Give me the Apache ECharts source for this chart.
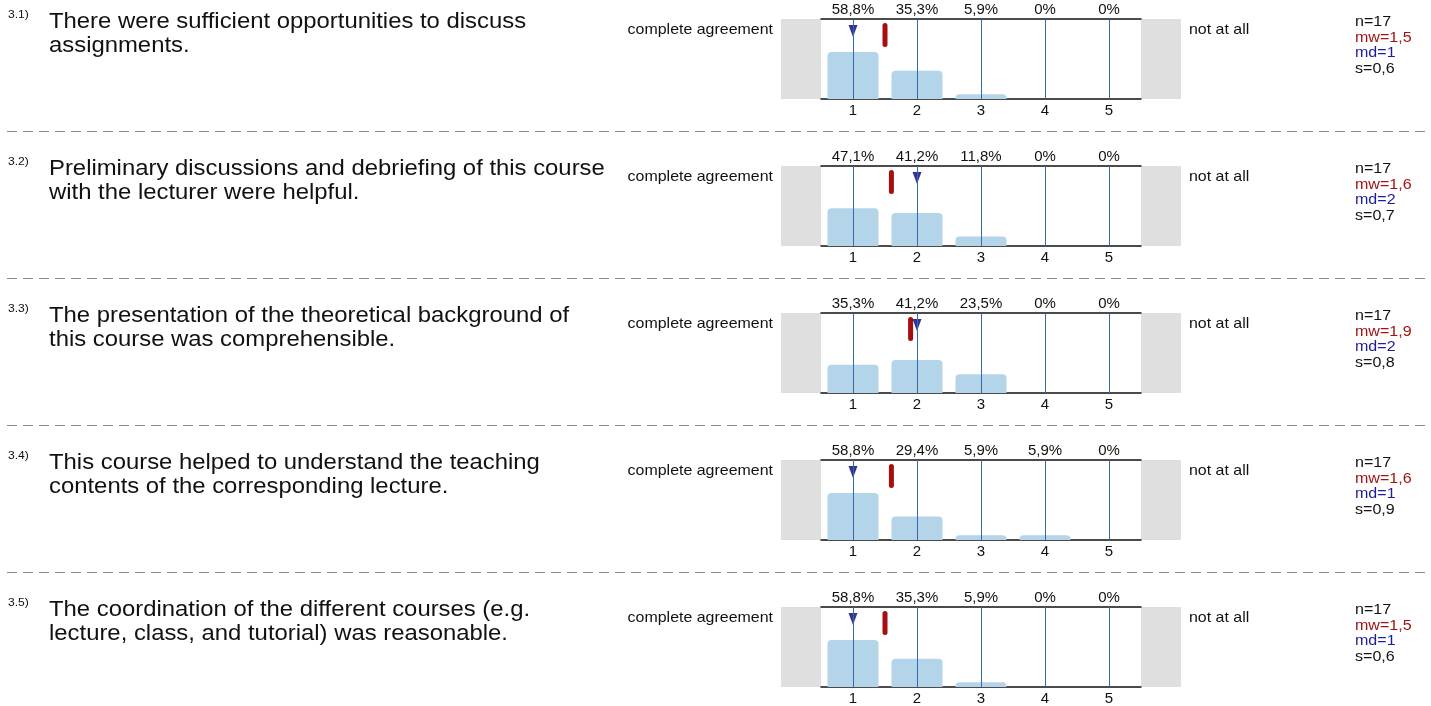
<!DOCTYPE html>
<html>
<head>
<meta charset="utf-8">
<title>Course evaluation</title>
<script src="https://cdn.jsdelivr.net/npm/echarts@6/dist/echarts.min.js"></script>
<style>
  *{ margin:0; padding:0; }
  body{ background:#fff; }
  #chart{ width:1431px; height:706px; }
</style>
</head>
<body>
<div id="chart"></div>
<script>
// data
var scaleLabels = ['1', '2', '3', '4', '5'];
var questionIds = ['3.1)', '3.2)', '3.3)', '3.4)', '3.5)'];
var questionLines = [
  ['There were sufficient opportunities to discuss', 'assignments.'],
  ['Preliminary discussions and debriefing of this course', 'with the lecturer were helpful.'],
  ['The presentation of the theoretical background of', 'this course was comprehensible.'],
  ['This course helped to understand the teaching', 'contents of the corresponding lecture.'],
  ['The coordination of the different courses (e.g.', 'lecture, class, and tutorial) was reasonable.']
];
var percentShares = [
  [58.8, 35.3, 5.9, 0, 0],
  [47.1, 41.2, 11.8, 0, 0],
  [35.3, 41.2, 23.5, 0, 0],
  [58.8, 29.4, 5.9, 5.9, 0],
  [58.8, 35.3, 5.9, 0, 0]
];
var nValues = [17, 17, 17, 17, 17];
var meanValues = [1.5, 1.6, 1.9, 1.6, 1.5];
var medianValues = [1, 2, 2, 1, 1];
var sdValues = [0.6, 0.7, 0.8, 0.9, 0.6];
var leftPole = 'complete agreement';
var rightPole = 'not at all';

// layout
var FONT = '"Liberation Sans", Arial, sans-serif';
var INK = '#111111';
var ROW_STEP = 147;
var PLOT_TOP = 19, PLOT_H = 80, PLOT_LEFT = 821, PLOT_W = 320, GREY_W = 40;

function fmt(v){
  return String(v).replace('.', ',');
}
function pctLabel(v){
  return v === 0 ? '0%' : v.toFixed(1).replace('.', ',') + '%';
}
function txt(x, y, text, size, stretch, color, align){
  return {
    type: 'text', x: x, y: y, scaleX: stretch, silent: true,
    style: {
      text: text, fontSize: size, fontFamily: FONT, fill: color,
      align: align, verticalAlign: 'middle',
      textAlign: align, textVerticalAlign: 'middle'
    }
  };
}

var grids = [], xAxes = [], yAxes = [], series = [], graphics = [];

questionIds.forEach(function(qid, i){
  var oy = ROW_STEP * i;
  var top = PLOT_TOP + oy;
  grids.push({ left: PLOT_LEFT, top: top, width: PLOT_W, height: PLOT_H });

  // bottom scale axis
  xAxes.push({
    type: 'category', gridIndex: i, data: scaleLabels, position: 'bottom',
    axisLine: { lineStyle: { color: INK, width: 1.5 } },
    axisTick: { show: false },
    axisLabel: { color: INK, fontSize: 15, fontFamily: FONT, margin: 4 }
  });
  // top percent axis, its ticks make the vertical guide lines
  xAxes.push({
    type: 'category', gridIndex: i, data: percentShares[i].map(pctLabel), position: 'top',
    z: 10,
    axisLine: { lineStyle: { color: INK, width: 1.5 } },
    axisTick: { show: true, alignWithLabel: true, inside: true, length: PLOT_H,
      lineStyle: { color: '#3569ad', width: 1 } },
    axisLabel: { color: INK, fontSize: 15, fontFamily: FONT, margin: 2 }
  });
  // hidden value axis for mean / median markers
  xAxes.push({ type: 'value', gridIndex: i, min: 0.5, max: 5.5, show: false });
  yAxes.push({ type: 'value', gridIndex: i, min: 0, max: 100, show: false });

  var xi = i * 3;
  series.push({
    type: 'bar', xAxisIndex: xi, yAxisIndex: i,
    data: percentShares[i], barWidth: 51,
    itemStyle: { color: '#b4d4ea', borderRadius: [4, 4, 0, 0] },
    silent: true, animation: false
  });
  series.push({
    type: 'custom', xAxisIndex: xi + 2, yAxisIndex: i, z: 5,
    data: [[meanValues[i]]], silent: true, animation: false,
    renderItem: function(params, api){
      var p1 = api.coord([api.value(0), 95]);
      var p2 = api.coord([api.value(0), 65]);
      return {
        type: 'rect',
        shape: { x: p1[0] - 2.5, y: p1[1], width: 5, height: p2[1] - p1[1], r: 2.5 },
        style: { fill: '#a50f0f' }
      };
    }
  });
  series.push({
    type: 'scatter', xAxisIndex: xi + 2, yAxisIndex: i, z: 6,
    data: [[medianValues[i], 85]], symbol: 'triangle', symbolRotate: 180,
    symbolSize: [9, 12], itemStyle: { color: '#000078' },
    silent: true, animation: false
  });

  // grey end boxes
  graphics.push({ type: 'rect', silent: true, z: -1,
    shape: { x: PLOT_LEFT - GREY_W, y: top, width: GREY_W, height: PLOT_H },
    style: { fill: '#dfdfdf' } });
  graphics.push({ type: 'rect', silent: true, z: -1,
    shape: { x: PLOT_LEFT + PLOT_W, y: top, width: GREY_W, height: PLOT_H },
    style: { fill: '#dfdfdf' } });

  // texts
  graphics.push(txt(8, 14.5 + oy, qid, 11, 1.1, INK, 'left'));
  graphics.push(txt(49, 22.5 + oy, questionLines[i][0], 21.5, 1.11, INK, 'left'));
  graphics.push(txt(49, 46.5 + oy, questionLines[i][1], 21.5, 1.11, INK, 'left'));
  graphics.push(txt(773, 30 + oy, leftPole, 14.5, 1.1, INK, 'right'));
  graphics.push(txt(1189, 30 + oy, rightPole, 14.5, 1.1, INK, 'left'));
  graphics.push(txt(1355, 22 + oy, 'n=' + nValues[i], 15, 1.07, INK, 'left'));
  graphics.push(txt(1355, 37.5 + oy, 'mw=' + fmt(meanValues[i]), 15, 1.07, '#a01414', 'left'));
  graphics.push(txt(1355, 53 + oy, 'md=' + fmt(medianValues[i]), 15, 1.07, '#1c1c9c', 'left'));
  graphics.push(txt(1355, 68.5 + oy, 's=' + fmt(sdValues[i]), 15, 1.07, INK, 'left'));

  // dashed separator below the row
  if (i < questionIds.length - 1) {
    var sy = 131.5 + oy;
    graphics.push({ type: 'line', silent: true,
      shape: { x1: 7, y1: sy, x2: 1431, y2: sy },
      style: { stroke: '#8a8a8a', lineWidth: 1, lineDash: [10, 6] } });
  }
});

var chart = echarts.init(document.getElementById('chart'));
chart.setOption({
  backgroundColor: '#ffffff',
  animation: false,
  grid: grids,
  xAxis: xAxes,
  yAxis: yAxes,
  series: series,
  graphic: { elements: graphics }
});
</script>
</body>
</html>
